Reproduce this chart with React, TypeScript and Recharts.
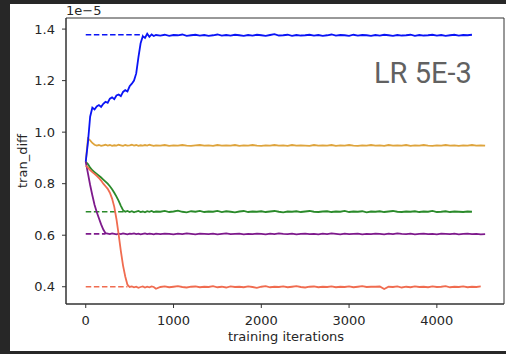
import { Line, LineChart, ReferenceArea, XAxis, YAxis } from 'recharts';

// iterations (finer sampling during the early transients)
const iters = [
  0, 25, 50, 75, 100, 125, 150, 175, 200, 225, 250, 275, 300, 325, 350, 375, 400,
  425, 450, 475, 500, 525, 550, 575, 600, 625, 650, 675, 700, 725, 750, 775, 800,
  850, 900, 950, 1000, 1050, 1100, 1150, 1200, 1250, 1300, 1350, 1400, 1450, 1500,
  1550, 1600, 1650, 1700, 1750, 1800, 1850, 1900, 1950, 2000, 2050, 2100, 2150,
  2200, 2250, 2300, 2350, 2400, 2450, 2500, 2550, 2600, 2650, 2700, 2750, 2800,
  2850, 2900, 2950, 3000, 3050, 3100, 3150, 3200, 3250, 3300, 3350, 3400, 3450,
  3500, 3550, 3600, 3650, 3700, 3750, 3800, 3850, 3900, 3950, 4000, 4050, 4100,
  4150, 4200, 4250, 4300, 4350, 4400, 4450, 4500, 4550,
];

// tran_diff, in units of 1e-5
const blue = [
  0.885, 0.96, 1.06, 1.095, 1.088, 1.1, 1.105, 1.098, 1.11, 1.118, 1.114, 1.13, 1.135,
  1.128, 1.142, 1.146, 1.14, 1.156, 1.163, 1.158, 1.178, 1.188, 1.2, 1.228, 1.29, 1.345,
  1.372, 1.366, 1.382, 1.37, 1.379, 1.373, 1.377,
  1.375, 1.378, 1.374, 1.377, 1.376, 1.379, 1.374, 1.376, 1.378, 1.375,
  1.377, 1.374, 1.376, 1.379, 1.375, 1.377, 1.375, 1.378, 1.376, 1.374,
  1.377, 1.375, 1.378, 1.376, 1.374, 1.377, 1.38, 1.375, 1.376, 1.378,
  1.374, 1.377, 1.375, 1.376, 1.378, 1.375, 1.377, 1.374, 1.376, 1.379,
  1.375, 1.377, 1.376, 1.374, 1.378, 1.375, 1.377, 1.376, 1.374, 1.377,
  1.375, 1.378, 1.376, 1.374, 1.377, 1.375, 1.376, 1.378, 1.374, 1.377,
  1.375, 1.376, 1.378, 1.375, 1.377, 1.374, 1.376, 1.378, 1.375, 1.377,
  1.376, 1.378,
];

const yellow = [
  0.885, 0.975, 0.968, 0.958, 0.951, 0.948, 0.95, 0.947, 0.949, 0.951, 0.948, 0.95,
  0.947, 0.949, 0.948, 0.951, 0.949, 0.947, 0.95, 0.948, 0.949, 0.951, 0.948, 0.95,
  0.947, 0.949, 0.948, 0.95, 0.948, 0.951, 0.949, 0.947, 0.949,
  0.948, 0.95, 0.947, 0.949, 0.948, 0.95, 0.948, 0.947, 0.949, 0.95,
  0.948, 0.949, 0.947, 0.95, 0.948, 0.949, 0.948, 0.95, 0.947, 0.949,
  0.948, 0.95, 0.948, 0.947, 0.949, 0.948, 0.95, 0.948, 0.949, 0.947,
  0.95, 0.948, 0.949, 0.948, 0.947, 0.95, 0.948, 0.949, 0.948, 0.95,
  0.947, 0.949, 0.948, 0.95, 0.948, 0.947, 0.949, 0.948, 0.95, 0.948,
  0.949, 0.947, 0.95, 0.948, 0.949, 0.948, 0.95, 0.947, 0.949, 0.948,
  0.95, 0.948, 0.947, 0.949, 0.948, 0.95, 0.948, 0.949, 0.947, 0.949,
  0.948, 0.95, 0.948, 0.949, 0.948,
];

const green = [
  0.885, 0.876, 0.862, 0.852, 0.845, 0.838, 0.831, 0.824, 0.816, 0.808, 0.8, 0.79,
  0.778, 0.765, 0.75, 0.733, 0.714, 0.697, 0.691, 0.694, 0.69, 0.693, 0.689, 0.692,
  0.694, 0.69, 0.692, 0.689, 0.693, 0.691, 0.694, 0.69, 0.692,
  0.691, 0.694, 0.69, 0.692, 0.695, 0.691, 0.689, 0.693, 0.691, 0.694,
  0.69, 0.692, 0.691, 0.694, 0.69, 0.693, 0.691, 0.689, 0.692, 0.694,
  0.69, 0.692, 0.691, 0.693, 0.69, 0.692, 0.694, 0.691, 0.689, 0.692,
  0.691, 0.693, 0.69, 0.692, 0.694, 0.691, 0.69, 0.692, 0.693, 0.69,
  0.692, 0.691, 0.694, 0.69, 0.692, 0.691, 0.693, 0.689, 0.692, 0.691,
  0.693, 0.69, 0.692, 0.694, 0.691, 0.69, 0.692, 0.691, 0.693, 0.69,
  0.692, 0.691, 0.694, 0.69, 0.691, 0.693, 0.69, 0.692, 0.691, 0.69,
  0.692, 0.691,
];

const purple = [
  0.885, 0.84, 0.795, 0.755, 0.718, 0.69, 0.666, 0.642, 0.622, 0.608, 0.606, 0.604,
  0.607, 0.605, 0.603, 0.606, 0.604, 0.607, 0.605, 0.603, 0.606, 0.605, 0.607, 0.604,
  0.606, 0.603, 0.605, 0.607, 0.604, 0.606, 0.605, 0.603, 0.606,
  0.604, 0.606, 0.605, 0.603, 0.606, 0.604, 0.607, 0.605, 0.603, 0.606,
  0.605, 0.604, 0.606, 0.603, 0.605, 0.607, 0.604, 0.605, 0.606, 0.603,
  0.605, 0.604, 0.606, 0.605, 0.603, 0.606, 0.604, 0.607, 0.605, 0.604,
  0.606, 0.603, 0.605, 0.606, 0.604, 0.605, 0.603, 0.606, 0.604, 0.607,
  0.605, 0.603, 0.606, 0.604, 0.605, 0.606, 0.603, 0.605, 0.604, 0.606,
  0.605, 0.603, 0.606, 0.604, 0.607, 0.605, 0.604, 0.606, 0.603, 0.605,
  0.606, 0.604, 0.605, 0.603, 0.606, 0.605, 0.604, 0.606, 0.603, 0.605,
  0.606, 0.604, 0.605, 0.603, 0.604,
];

const red = [
  0.87, 0.862, 0.853, 0.845, 0.838, 0.83, 0.822, 0.812, 0.8, 0.79, 0.78, 0.765, 0.742,
  0.71, 0.662, 0.602, 0.538, 0.482, 0.44, 0.408, 0.399, 0.401, 0.398, 0.4, 0.396, 0.399,
  0.401, 0.397, 0.4, 0.398, 0.401, 0.399, 0.392,
  0.399, 0.401, 0.398, 0.4, 0.402, 0.399, 0.397, 0.4, 0.401, 0.398,
  0.4, 0.399, 0.402, 0.398, 0.4, 0.397, 0.401, 0.399, 0.4, 0.398,
  0.401, 0.399, 0.396, 0.4, 0.402, 0.398, 0.4, 0.399, 0.401, 0.398,
  0.4, 0.402, 0.399, 0.397, 0.4, 0.401, 0.398, 0.4, 0.399, 0.401,
  0.398, 0.4, 0.399, 0.401, 0.398, 0.4, 0.402, 0.399, 0.4, 0.4,
  0.401, 0.391, 0.4, 0.399, 0.401, 0.397, 0.4, 0.398, 0.401, 0.399,
  0.4, 0.398, 0.401, 0.399, 0.4, 0.402, 0.398, 0.4, 0.399, 0.401,
  0.398, 0.4, 0.399, 0.401,
];

// dashed target levels and the iteration where each curve reaches them
const targetNames = ['blue', 'green', 'purple', 'red'];
const targetLevels = [1.378, 0.691, 0.605, 0.4];
const targetEnds = [650, 450, 225, 475];

const xTicks = [0, 1000, 2000, 3000, 4000];
const yTicks = [0.4, 0.6, 0.8, 1.0, 1.2, 1.4];

const COLORS: Record<string, string> = {
  blue: '#0a14f5',
  yellow: '#dea43c',
  green: '#2a8a2a',
  purple: '#7e1a8c',
  red: '#f06c50',
};

const X_DOMAIN: [number, number] = [-225, 4765];
const Y_DOMAIN: [number, number] = [0.333, 1.443];

const rows = iters.map((it, i) => ({
  it,
  blue: blue[i],
  yellow: yellow[i],
  green: green[i],
  purple: purple[i],
  red: red[i],
}));

const targets = targetNames.map((name, i) => ({
  name,
  data: [
    { it: 0, v: targetLevels[i] },
    { it: targetEnds[i], v: targetLevels[i] },
  ],
}));

const tickStyle = { fill: '#262626', fontSize: 13, fontFamily: 'DejaVu Sans' };

export default function App() {
  return (
    <div
      style={{
        position: 'absolute',
        left: 0,
        top: 0,
        width: 506,
        height: 354,
        background: '#272727',
      }}
    >
      <div
        style={{
          position: 'absolute',
          left: 10,
          top: 4,
          width: 496,
          height: 347,
          background: '#ffffff',
        }}
      />
      <div style={{ position: 'absolute', left: 0, top: 0 }}>
        <LineChart
          width={506}
          height={354}
          data={rows}
          margin={{ top: 18, right: 2, bottom: 0, left: 0 }}
        >
          <XAxis
            dataKey="it"
            type="number"
            domain={X_DOMAIN}
            ticks={xTicks}
            allowDataOverflow
            height={50}
            tick={tickStyle}
            tickSize={4}
            tickMargin={8}
            axisLine={{ stroke: '#333' }}
            tickLine={{ stroke: '#333' }}
          />
          <YAxis
            type="number"
            domain={Y_DOMAIN}
            ticks={yTicks}
            allowDataOverflow
            width={66}
            tick={tickStyle}
            tickSize={4}
            tickMargin={7}
            tickFormatter={(v: number) => v.toFixed(1)}
            axisLine={{ stroke: '#333' }}
            tickLine={{ stroke: '#333' }}
          />
          <ReferenceArea
            x1={X_DOMAIN[0]}
            x2={X_DOMAIN[1]}
            y1={Y_DOMAIN[0]}
            y2={Y_DOMAIN[1]}
            fill="none"
            fillOpacity={0}
            stroke="#333"
            strokeWidth={1}
          />
          {targets.map((t) => (
            <Line
              key={`target-${t.name}`}
              data={t.data}
              dataKey="v"
              stroke={COLORS[t.name]}
              strokeWidth={1.7}
              strokeDasharray="5.5 2.6"
              dot={false}
              isAnimationActive={false}
            />
          ))}
          {['yellow', 'green', 'purple', 'red', 'blue'].map((k) => (
            <Line
              key={k}
              dataKey={k}
              type="linear"
              stroke={COLORS[k]}
              strokeWidth={1.8}
              dot={false}
              isAnimationActive={false}
            />
          ))}
        </LineChart>
      </div>
      <svg
        width={506}
        height={354}
        style={{ position: 'absolute', left: 0, top: 0, pointerEvents: 'none' }}
      >
        <text x={66} y={15} fontSize={13} fontFamily="DejaVu Sans" fill="#262626">
          1e−5
        </text>
        <text
          x={374}
          y={83}
          fontSize={29}
          fontFamily="Roboto"
          fill="#616161"
        >
          LR 5E-3
        </text>
        <text
          x={286}
          y={341}
          fontSize={13}
          fontFamily="DejaVu Sans"
          fill="#262626"
          textAnchor="middle"
        >
          training iterations
        </text>
        <text
          x={27}
          y={161}
          fontSize={13}
          fontFamily="DejaVu Sans"
          fill="#262626"
          textAnchor="middle"
          transform="rotate(-90, 27, 161)"
        >
          tran_diff
        </text>
      </svg>
    </div>
  );
}
